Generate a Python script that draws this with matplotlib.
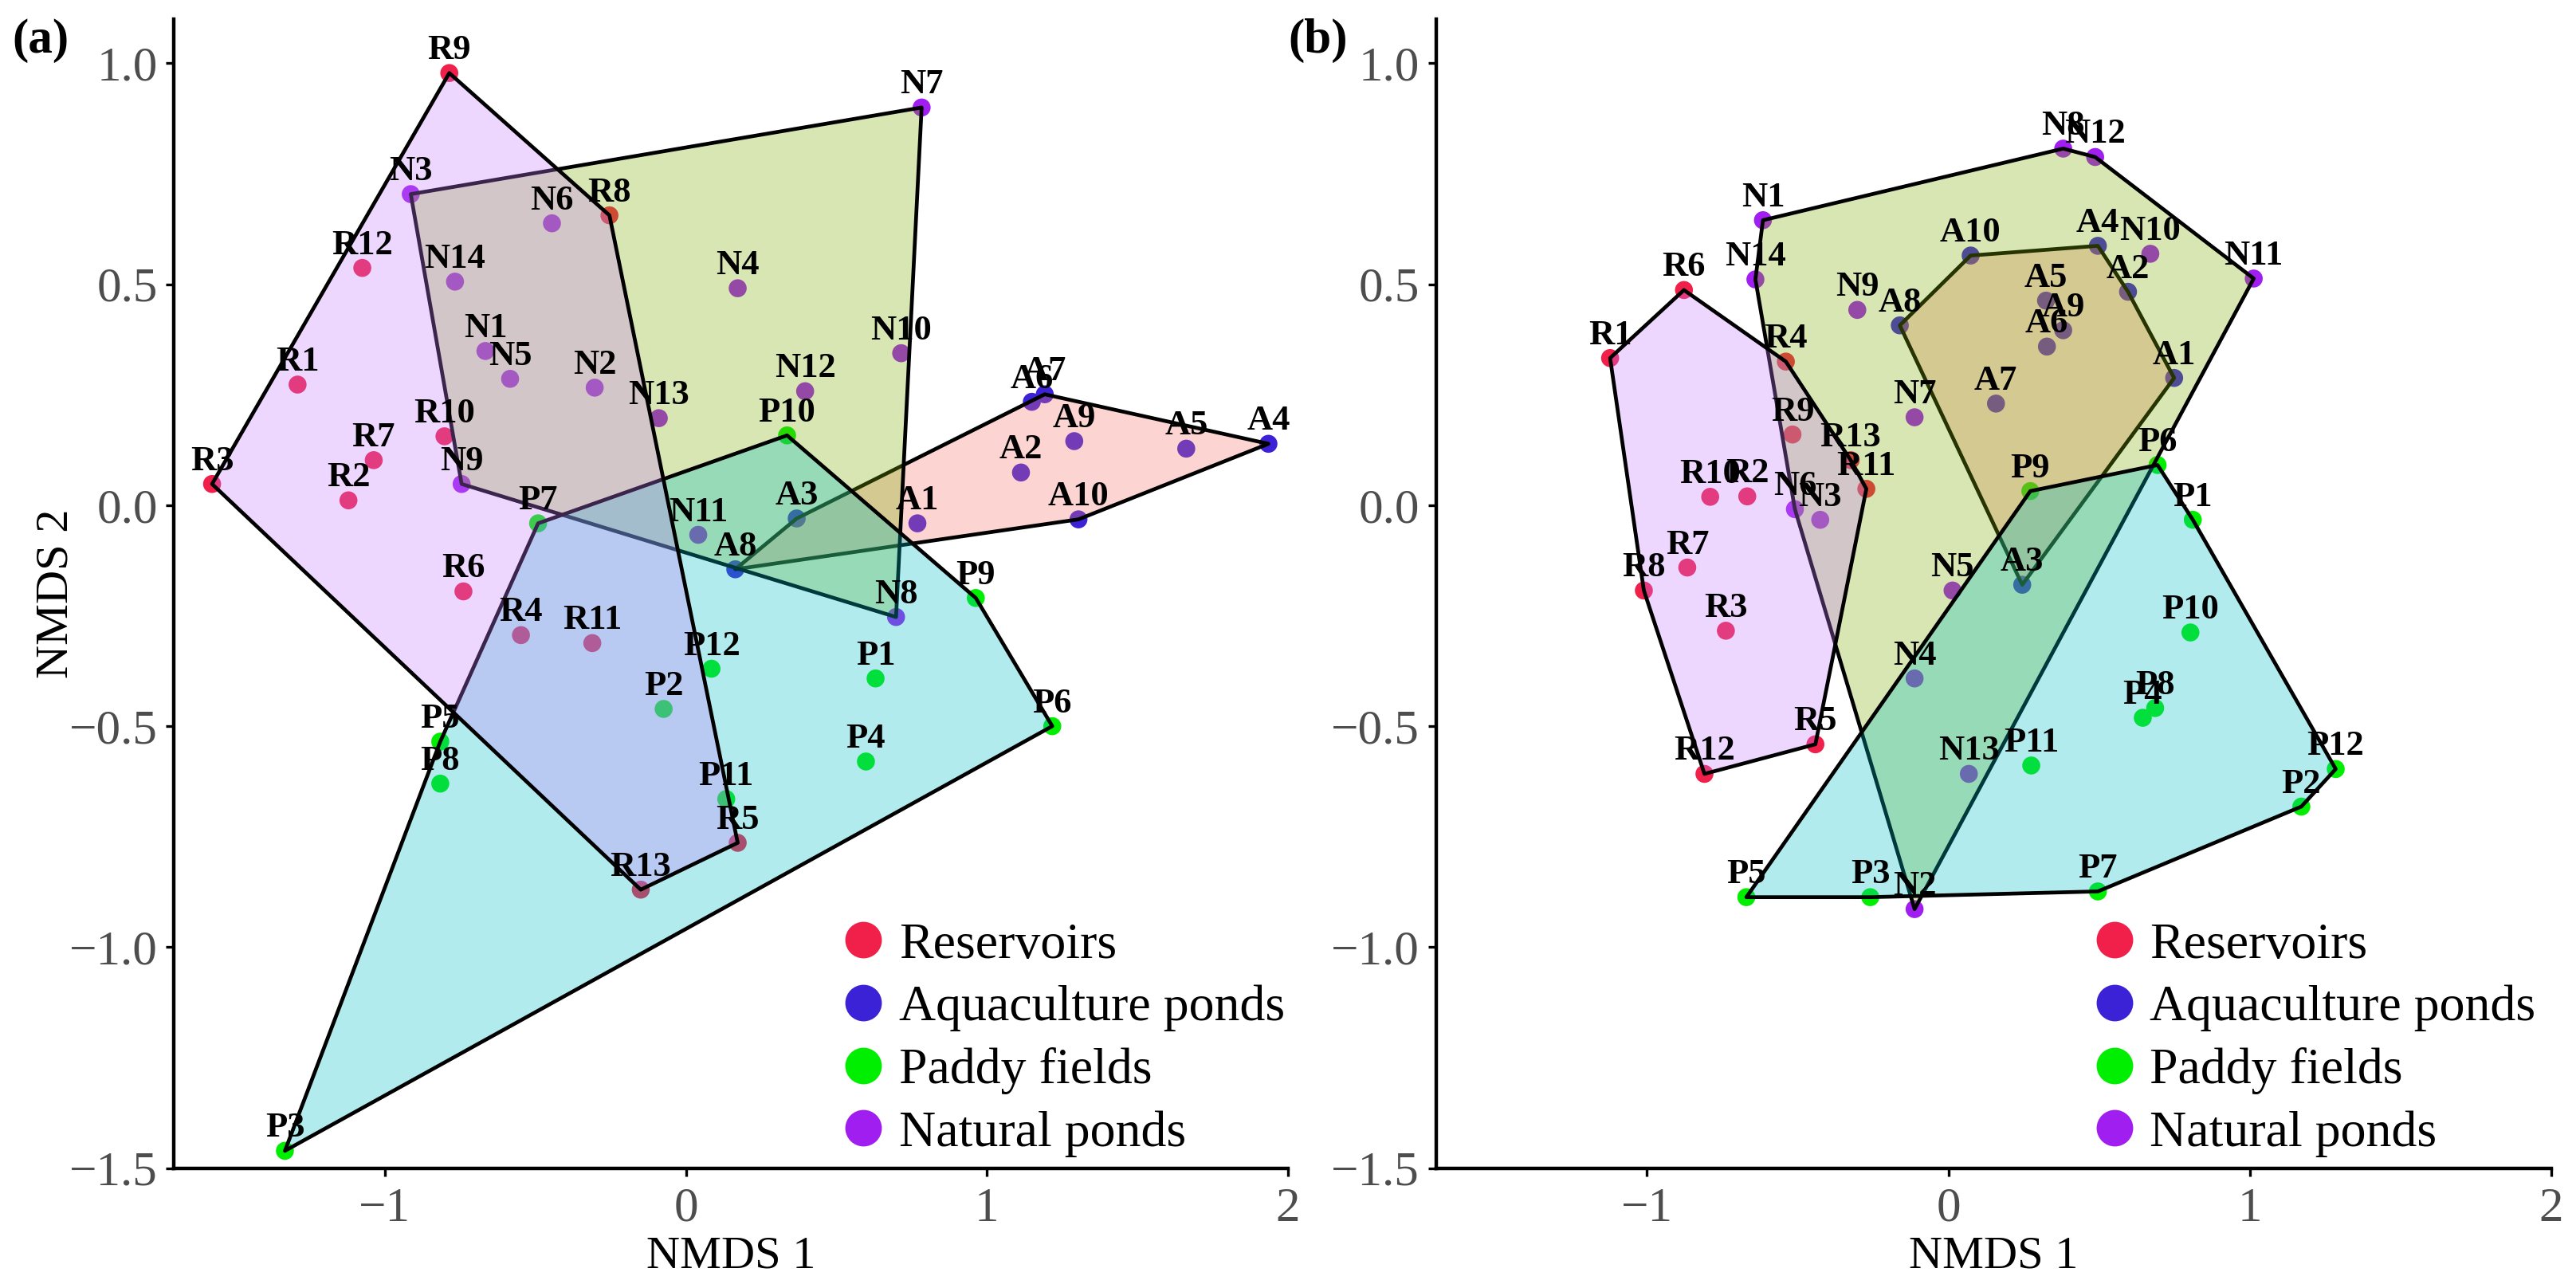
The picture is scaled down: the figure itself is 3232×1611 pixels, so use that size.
import matplotlib as mpl
mpl.use('Agg')
import matplotlib.pyplot as plt
from matplotlib.lines import Line2D
import numpy as np

plt.rcParams['font.family'] = ['Liberation Serif', 'DejaVu Serif']

# ---- panel (a) ----
a_res_lab = ['R1', 'R2', 'R3', 'R4', 'R5', 'R6', 'R7', 'R8', 'R9', 'R10', 'R11', 'R12', 'R13']
a_res_x = [-1.290, -1.121, -1.574, -0.548, 0.172, -0.739, -1.037, -0.254, -0.786, -0.802, -0.311, -1.075, -0.150]
a_res_y = [0.273, 0.011, 0.048, -0.294, -0.764, -0.195, 0.102, 0.656, 0.978, 0.156, -0.312, 0.537, -0.870]

a_aqu_lab = ['A1', 'A2', 'A3', 'A4', 'A5', 'A6', 'A7', 'A8', 'A9', 'A10']
a_aqu_x = [0.769, 1.113, 0.368, 1.935, 1.662, 1.149, 1.192, 0.164, 1.290, 1.304]
a_aqu_y = [-0.041, 0.074, -0.030, 0.139, 0.128, 0.234, 0.251, -0.145, 0.145, -0.032]

a_pad_lab = ['P1', 'P2', 'P3', 'P4', 'P5', 'P6', 'P7', 'P8', 'P9', 'P10', 'P11', 'P12']
a_pad_x = [0.630, -0.074, -1.332, 0.598, -0.816, 1.217, -0.491, -0.816, 0.963, 0.336, 0.134, 0.085]
a_pad_y = [-0.392, -0.461, -1.461, -0.580, -0.535, -0.500, -0.041, -0.630, -0.210, 0.158, -0.665, -0.370]

a_nat_lab = ['N1', 'N2', 'N3', 'N4', 'N5', 'N6', 'N7', 'N8', 'N9', 'N10', 'N11', 'N12', 'N13', 'N14']
a_nat_x = [-0.666, -0.303, -0.914, 0.172, -0.584, -0.445, 0.783, 0.698, -0.745, 0.715, 0.041, 0.396, -0.090, -0.767]
a_nat_y = [0.349, 0.266, 0.704, 0.491, 0.286, 0.638, 0.900, -0.253, 0.048, 0.344, -0.067, 0.258, 0.197, 0.506]

# ---- panel (b) ----
b_res_lab = a_res_lab
b_res_x = [-1.122, -0.667, -0.738, -0.539, -0.441, -0.877, -0.866, -1.010, -0.517, -0.790, -0.272, -0.809, -0.324]
b_res_y = [0.333, 0.020, -0.284, 0.325, -0.541, 0.487, -0.141, -0.193, 0.160, 0.019, 0.037, -0.608, 0.102]

b_aqu_lab = a_aqu_lab
b_aqu_x = [0.749, 0.596, 0.245, 0.496, 0.324, 0.327, 0.158, -0.161, 0.381, 0.074]
b_aqu_y = [0.288, 0.483, -0.180, 0.587, 0.463, 0.359, 0.230, 0.407, 0.396, 0.565]

b_pad_lab = a_pad_lab
b_pad_x = [0.811, 1.171, -0.259, 0.645, -0.670, 0.694, 0.496, 0.686, 0.272, 0.803, 0.275, 1.285]
b_pad_y = [-0.033, -0.682, -0.887, -0.481, -0.887, 0.091, -0.874, -0.459, 0.032, -0.288, -0.589, -0.597]

b_nat_lab = a_nat_lab
b_nat_x = [-0.615, -0.112, -0.425, -0.112, 0.014, -0.509, -0.112, 0.381, -0.302, 0.670, 1.013, 0.487, 0.068, -0.640]
b_nat_y = [0.645, -0.914, -0.033, -0.392, -0.193, -0.009, 0.199, 0.807, 0.442, 0.569, 0.513, 0.788, -0.608, 0.511]

groups = ['Reservoirs', 'Aquaculture ponds', 'Paddy fields', 'Natural ponds']
point_colors = ['#F0204A', '#3B22D6', '#00EE00', '#A01EF0']
# hull fills follow the default ggplot hue order (alphabetical groups)
hull_colors = {'Aquaculture ponds': '#F8766D', 'Natural ponds': '#7CAE00',
               'Paddy fields': '#00BFC4', 'Reservoirs': '#C77CFF'}
hull_order = ['Aquaculture ponds', 'Natural ponds', 'Paddy fields', 'Reservoirs']


def convex_hull(xs, ys):
	pts = sorted(set(zip(xs, ys)))
	def cross(o, a, b):
		return (a[0]-o[0])*(b[1]-o[1]) - (a[1]-o[1])*(b[0]-o[0])
	lower = []
	for p in pts:
		while len(lower) >= 2 and cross(lower[-2], lower[-1], p) <= 0:
			lower.pop()
		lower.append(p)
	upper = []
	for p in reversed(pts):
		while len(upper) >= 2 and cross(upper[-2], upper[-1], p) <= 0:
			upper.pop()
		upper.append(p)
	return np.array(lower[:-1] + upper[:-1])


def draw_panel(ax, data, legend_x):
	# points first, hulls on top of them, labels last
	for (lab, xs, ys), g, c in zip(data, groups, point_colors):
		ax.scatter(xs, ys, s=66, color=c, edgecolors='none', zorder=2)
	for g in hull_order:
		lab, xs, ys = data[groups.index(g)]
		hull = convex_hull(xs, ys)
		ax.fill(hull[:, 0], hull[:, 1], facecolor=mpl.colors.to_rgba(hull_colors[g], 0.3),
				edgecolor='black', linewidth=1.7, joinstyle='round', zorder=3)
	for lab, xs, ys in data:
		for t, x, y in zip(lab, xs, ys):
			ax.annotate(t, (x, y), xytext=(0, 6.3), textcoords='offset points', ha='center',
						va='baseline', fontsize=16, fontweight='bold', color='black', zorder=5)

	ax.set_xlim(-1.7, 2.0)
	ax.set_ylim(-1.5, 1.1)
	ax.set_xticks([-1, 0, 1, 2])
	ax.set_yticks([-1.5, -1.0, -0.5, 0.0, 0.5, 1.0])
	ax.set_yticklabels(['\u22121.5', '\u22121.0', '\u22120.5', '0.0', '0.5', '1.0'])
	ax.set_xticklabels(['\u22121', '0', '1', '2'])
	for s in ['top', 'right']:
		ax.spines[s].set_visible(False)
	for s in ['left', 'bottom']:
		ax.spines[s].set_linewidth(1.6)
	ax.tick_params(axis='both', length=3.5, width=1.2, labelsize=22, labelcolor='#4D4D4D')
	ax.tick_params(axis='x', pad=5)
	ax.tick_params(axis='y', pad=4)
	ax.set_xlabel('NMDS 1', fontsize=21)
	ax.xaxis.set_label_coords(0.5, -0.059)

	handles = [Line2D([], [], marker='o', ls='', color=c, markersize=15.5) for c in point_colors]
	ax.legend(handles, groups, loc='upper left', bbox_to_anchor=(legend_x, 0.214), frameon=False,
			  fontsize=23, handlelength=1.0, handletextpad=0.2, labelspacing=0.31,
			  borderpad=0, borderaxespad=0)


fig = plt.figure(figsize=(16.16, 8.055), dpi=200)
ax1 = fig.add_axes([0.0676, 0.0903, 0.4324, 0.8948])
ax2 = fig.add_axes([0.5574, 0.0903, 0.4330, 0.8948])

draw_panel(ax1, [(a_res_lab, a_res_x, a_res_y), (a_aqu_lab, a_aqu_x, a_aqu_y),
				 (a_pad_lab, a_pad_x, a_pad_y), (a_nat_lab, a_nat_x, a_nat_y)], 0.5957)
draw_panel(ax2, [(b_res_lab, b_res_x, b_res_y), (b_aqu_lab, b_aqu_x, b_aqu_y),
				 (b_pad_lab, b_pad_x, b_pad_y), (b_nat_lab, b_nat_x, b_nat_y)], 0.5854)

ax1.set_ylabel('NMDS 2', fontsize=21)
ax1.yaxis.set_label_coords(-0.087, 0.5)

fig.text(0.0048, 0.986, '(a)', ha='left', va='top', fontsize=22, fontweight='bold')
fig.text(0.5, 0.986, '(b)', ha='left', va='top', fontsize=22, fontweight='bold')

plt.savefig('out.png', dpi=200)
plt.close('all')
